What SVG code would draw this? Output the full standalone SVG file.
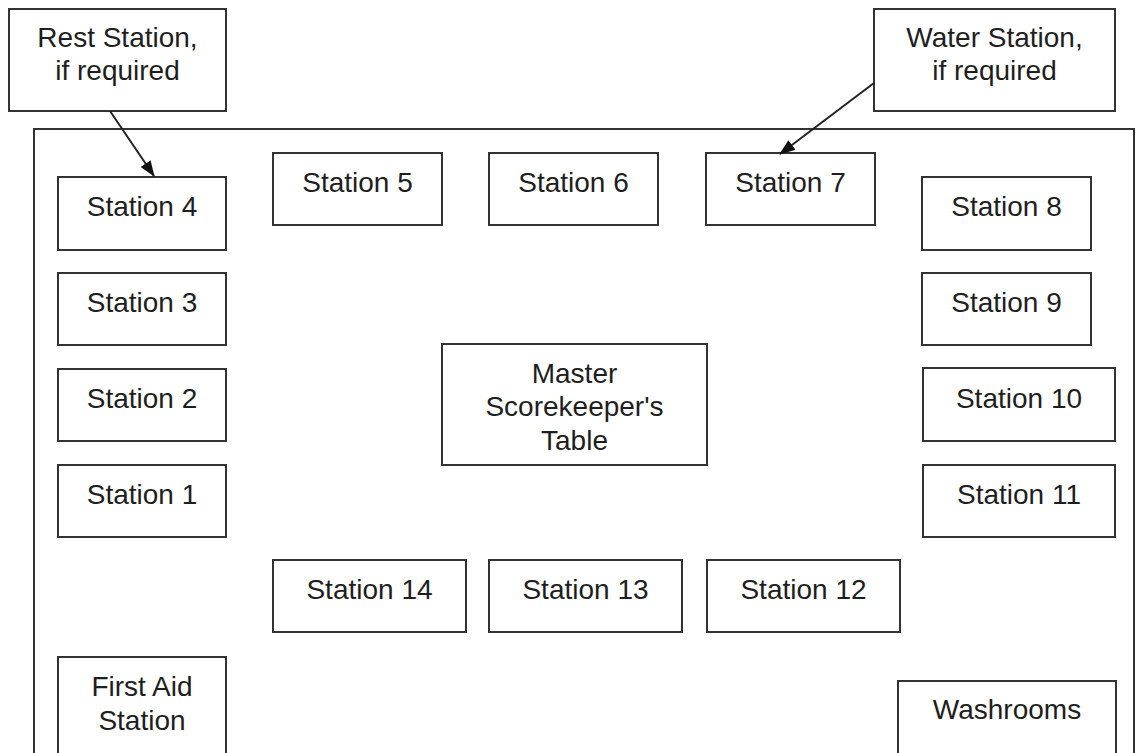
<svg xmlns="http://www.w3.org/2000/svg" width="1137" height="753" viewBox="0 0 1137 753">
<style>
.b{fill:#fff;stroke:#333;stroke-width:2}
.t{font-family:"Liberation Sans",Arial,sans-serif;font-size:28px;fill:#1e1e1e;text-anchor:middle}
.c{stroke:#222;stroke-width:2;fill:none}
</style>
<defs>
<marker id="ah" viewBox="0 0 16 12" refX="15" refY="6" markerWidth="16" markerHeight="12" markerUnits="userSpaceOnUse" orient="auto">
<path d="M0,0 L16,6 L0,12 z" fill="#111"/>
</marker>
</defs>
<rect width="1137" height="753" fill="#fff"/>
<g id="hall"><rect x="34" y="129" width="1100" height="630" fill="none" stroke="#333" stroke-width="2"/></g>
<g id="rest"><rect class="b" x="9" y="9" width="217" height="102"/><text class="t" x="117.5" y="47">Rest Station,</text><text class="t" x="117.5" y="80">if required</text></g>
<g id="water"><rect class="b" x="874" y="9" width="241" height="102"/><text class="t" x="994.5" y="47">Water Station,</text><text class="t" x="994.5" y="80">if required</text></g>
<g id="s4"><rect class="b" x="58" y="177" width="168" height="73"/><text class="t" x="142" y="216">Station 4</text></g>
<g id="s3"><rect class="b" x="58" y="273" width="168" height="72"/><text class="t" x="142" y="312">Station 3</text></g>
<g id="s2"><rect class="b" x="58" y="369" width="168" height="72"/><text class="t" x="142" y="408">Station 2</text></g>
<g id="s1"><rect class="b" x="58" y="465" width="168" height="72"/><text class="t" x="142" y="504">Station 1</text></g>
<g id="s5"><rect class="b" x="273" y="153" width="169" height="72"/><text class="t" x="357.5" y="192">Station 5</text></g>
<g id="s6"><rect class="b" x="489" y="153" width="169" height="72"/><text class="t" x="573.5" y="192">Station 6</text></g>
<g id="s7"><rect class="b" x="706" y="153" width="169" height="72"/><text class="t" x="790.5" y="192">Station 7</text></g>
<g id="s8"><rect class="b" x="922" y="177" width="169" height="73"/><text class="t" x="1006.5" y="216">Station 8</text></g>
<g id="s9"><rect class="b" x="922" y="273" width="169" height="72"/><text class="t" x="1006.5" y="312">Station 9</text></g>
<g id="s10"><rect class="b" x="923" y="368" width="192" height="73"/><text class="t" x="1019" y="408">Station 10</text></g>
<g id="s11"><rect class="b" x="923" y="465" width="192" height="72"/><text class="t" x="1019" y="504">Station 11</text></g>
<g id="s14"><rect class="b" x="273" y="560" width="193" height="72"/><text class="t" x="369.5" y="599">Station 14</text></g>
<g id="s13"><rect class="b" x="489" y="560" width="193" height="72"/><text class="t" x="585.5" y="599">Station 13</text></g>
<g id="s12"><rect class="b" x="707" y="560" width="193" height="72"/><text class="t" x="803.5" y="599">Station 12</text></g>
<g id="master"><rect class="b" x="442" y="344" width="265" height="121"/><text class="t" x="574.5" y="383">Master</text><text class="t" x="574.5" y="416">Scorekeeper's</text><text class="t" x="574.5" y="450">Table</text></g>
<g id="firstaid"><rect class="b" x="58" y="657" width="168" height="110"/><text class="t" x="142" y="696">First Aid</text><text class="t" x="142" y="730">Station</text></g>
<g id="washrooms"><rect class="b" x="898" y="681" width="218" height="90"/><text class="t" x="1007" y="719">Washrooms</text></g>
<g id="connectors">
<line class="c" x1="110" y1="111" x2="154" y2="176" marker-end="url(#ah)"/>
<line class="c" x1="874" y1="83" x2="780" y2="154" marker-end="url(#ah)"/>
</g>
</svg>
